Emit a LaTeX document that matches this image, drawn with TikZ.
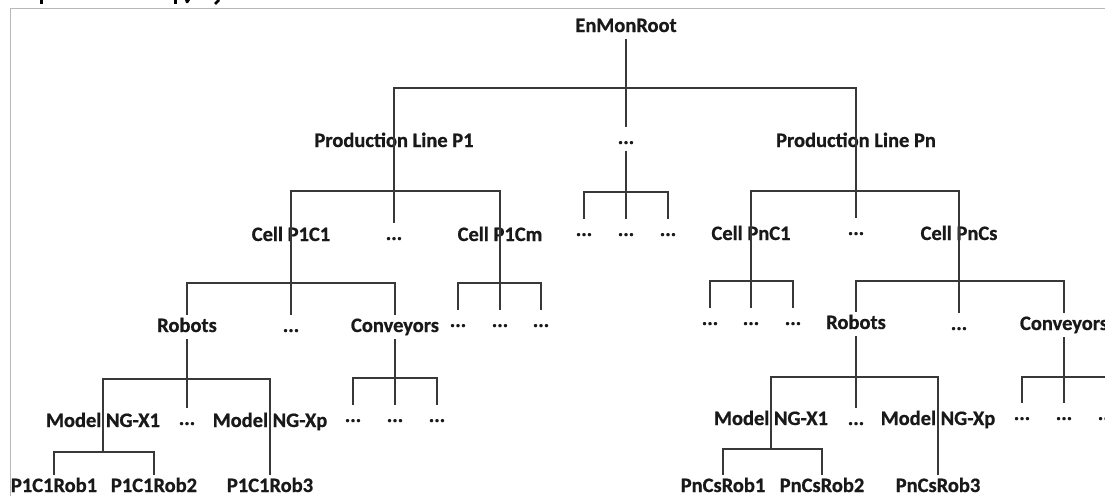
\documentclass[tikz,border=0pt]{standalone}
\usepackage{fontspec}
\setmainfont{Carlito}[BoldFeatures={FakeBold=0.8}]
\begin{document}
\begin{tikzpicture}[x=1pt,y=-1pt,
  lbl/.style={font=\fontsize{20.5}{24}\selectfont\bfseries, text=black!90,
              inner sep=3pt, text height=14pt, text depth=4pt, anchor=base},
  conn/.style={draw=black!78, line width=1.5pt},
  frame/.style={draw=black!28, line width=1pt}]

\clip (0,0) rectangle (1105,496);

% page frame and the cut-off descenders above it
\draw[frame] (10.5,496) -- (10.5,8.5) -- (1105,8.5);
\fill[black] (39.5,0) rectangle (42.5,4);
\fill[black] (174,0) rectangle (177,4);
\fill[black] (185,0) -- (190,0) -- (188,3) -- (186,3) -- cycle;
\draw[black, line width=2.5pt] (219,0) -- (215,4);

% level 0
\node[lbl] (root) at (626,32) {EnMonRoot};
% level 1
\node[lbl] (pl1) at (394,147) {Production Line P1};
\node[lbl] (dl1) at (626,144) {...};
\node[lbl] (pln) at (856,147) {Production Line Pn};
% level 2
\node[lbl] (c11) at (291,241) {Cell P1C1};
\node[lbl] (d12) at (394,240) {...};
\node[lbl] (c1m) at (500,241) {Cell P1Cm};
\node[lbl] (d21) at (584,236) {...};
\node[lbl] (d22) at (626,236) {...};
\node[lbl] (d23) at (668,236) {...};
\node[lbl] (cn1) at (751,240) {Cell PnC1};
\node[lbl] (dn2) at (856,235) {...};
\node[lbl] (cns) at (959,240) {Cell PnCs};
% level 3
\node[lbl] (rob1) at (187,332) {Robots};
\node[lbl] (d31) at (291,332) {...};
\node[lbl] (con1) at (395,332) {Conveyors};
\node[lbl] (e1) at (458,327) {...};
\node[lbl] (e2) at (500,327) {...};
\node[lbl] (e3) at (541,327) {...};
\node[lbl] (f1) at (710,325) {...};
\node[lbl] (f2) at (751,325) {...};
\node[lbl] (f3) at (793,325) {...};
\node[lbl] (rob2) at (856,329) {Robots};
\node[lbl] (d32) at (959,330) {...};
\node[lbl] (con2) at (1064,330) {Conveyors};
% level 4
\node[lbl] (m1) at (103,427) {Model NG-X1};
\node[lbl] (d41) at (187,425) {...};
\node[lbl] (mp1) at (270,427) {Model NG-Xp};
\node[lbl] (g1) at (353,422) {...};
\node[lbl] (g2) at (395,422) {...};
\node[lbl] (g3) at (437,422) {...};
\node[lbl] (m2) at (771,425) {Model NG-X1};
\node[lbl] (d42) at (856,425) {...};
\node[lbl] (mp2) at (938,425) {Model NG-Xp};
\node[lbl] (h1) at (1022,420) {...};
\node[lbl] (h2) at (1064,420) {...};
\node[lbl] (h3) at (1106,420) {...};
% level 5
\node[lbl] (r1) at (54,492) {P1C1Rob1};
\node[lbl] (r2) at (154,492) {P1C1Rob2};
\node[lbl] (r3) at (270,492) {P1C1Rob3};
\node[lbl] (s1) at (723,492) {PnCsRob1};
\node[lbl] (s2) at (822,492) {PnCsRob2};
\node[lbl] (s3) at (938,492) {PnCsRob3};

% branching points of each parent
\coordinate (b0)    at (626,88);
\coordinate (bpl1)  at (394,191);
\coordinate (bdl1)  at (626,192);
\coordinate (bpln)  at (856,191);
\coordinate (bc11)  at (291,283);
\coordinate (bc1m)  at (500,283);
\coordinate (bcn1)  at (751,281);
\coordinate (bcns)  at (959,281);
\coordinate (brob1) at (187,379);
\coordinate (bcon1) at (395,378);
\coordinate (brob2) at (856,377);
\coordinate (bcon2) at (1064,377);
\coordinate (bm1)   at (103,452);
\coordinate (bm2)   at (771,449);

% root
\draw[conn] (root.south) -- (b0);
\draw[conn] (bpl1) |- (b0) -| (bpln);
\draw[conn] (b0) -- (dl1.north);
% production line P1
\draw[conn] (bc11) |- (bpl1) -| (bc1m);
\draw[conn] (bpl1) -- (d12.north);
% middle production lines
\draw[conn] (dl1.south) -- (bdl1);
\draw[conn] (d21.north) |- (bdl1) -| (d23.north);
\draw[conn] (bdl1) -- (d22.north);
% production line Pn
\draw[conn] (bcn1) |- (bpln) -| (bcns);
\draw[conn] (bpln) -- (dn2.north);
% cell P1C1
\draw[conn] (rob1.north) |- (bc11) -| (con1.north);
\draw[conn] (bc11) -- (d31.north);
% cell P1Cm
\draw[conn] (e1.north) |- (bc1m) -| (e3.north);
\draw[conn] (bc1m) -- (e2.north);
% cell PnC1
\draw[conn] (f1.north) |- (bcn1) -| (f3.north);
\draw[conn] (bcn1) -- (f2.north);
% cell PnCs
\draw[conn] (rob2.north) |- (bcns) -| (con2.north);
\draw[conn] (bcns) -- (d32.north);
% robots of P1C1
\draw[conn] (rob1.south) -- (brob1);
\draw[conn] (bm1) |- (brob1) -| (r3.north);
\draw[conn] (brob1) -- (d41.north);
% conveyors of P1C1
\draw[conn] (con1.south) -- (bcon1);
\draw[conn] (g1.north) |- (bcon1) -| (g3.north);
\draw[conn] (bcon1) -- (g2.north);
% robots of PnCs
\draw[conn] (rob2.south) -- (brob2);
\draw[conn] (bm2) |- (brob2) -| (s3.north);
\draw[conn] (brob2) -- (d42.north);
% conveyors of PnCs
\draw[conn] (con2.south) -- (bcon2);
\draw[conn] (h1.north) |- (bcon2) -| (h3.north);
\draw[conn] (bcon2) -- (h2.north);
% robot models
\draw[conn] (r1.north) |- (bm1) -| (r2.north);
\draw[conn] (s1.north) |- (bm2) -| (s2.north);

\end{tikzpicture}
\end{document}
